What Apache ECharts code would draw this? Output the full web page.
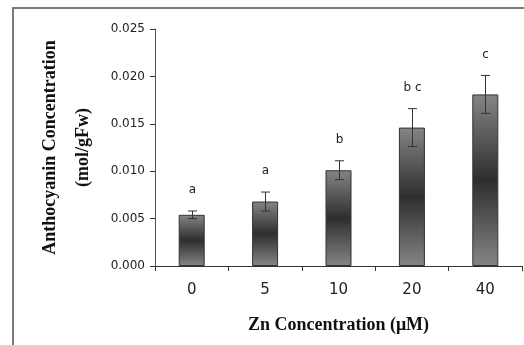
<!DOCTYPE html>
<html>
<head>
<meta charset="utf-8">
<script src="https://cdn.jsdelivr.net/npm/echarts@6/dist/echarts.min.js"></script>
<style>
  html, body { margin: 0; padding: 0; background: #fff; }
  #chart { width: 524px; height: 345px; }
</style>
</head>
<body>
<div id="chart"></div>
<script>
const categories = ['0', '5', '10', '20', '40']
const means = [0.0054, 0.0068, 0.0101, 0.0146, 0.0181]
const errors = [0.0004, 0.0010, 0.0010, 0.0020, 0.0020]
const letters = ['a', 'a', 'b', 'b c', 'c']
const yTicks = [0, 0.005, 0.010, 0.015, 0.020, 0.025]

const chart = echarts.init(document.getElementById('chart'))

const errData = means.map((m, i) => [i, m + errors[i], m - errors[i]])

const option = {
  animation: false,
  backgroundColor: '#fff',
  graphic: [{
    type: 'rect',
    shape: { x: 13, y: 8, width: 600, height: 400 },
    style: { fill: 'none', stroke: '#7a7a7a', lineWidth: 2 },
    silent: true
  }],
  grid: { left: 155, right: 2, top: 29, bottom: 79, outerBoundsMode: 'none', containLabel: false },
  xAxis: {
    type: 'category',
    data: categories,
    name: 'Zn Concentration (\u03bcM)',
    nameLocation: 'middle',
    nameGap: 50,
    nameTextStyle: { fontFamily: 'Liberation Serif', fontSize: 18, fontWeight: 'bold', color: '#111' },
    axisLine: { lineStyle: { color: '#333', width: 1 } },
    axisTick: { show: true, length: 5, lineStyle: { color: '#333' } },
    axisLabel: { fontFamily: 'DejaVu Sans', fontSize: 15, color: '#222', margin: 17 }
  },
  yAxis: {
    type: 'value',
    min: yTicks[0],
    max: yTicks[yTicks.length - 1],
    interval: 0.005,
    name: 'Anthocyanin Concentration\n(mol/gFw)',
    nameLocation: 'middle',
    nameGap: 55,
    nameTextStyle: { fontFamily: 'Liberation Serif', fontSize: 18, fontWeight: 'bold', color: '#111', lineHeight: 33 },
    splitLine: { show: false },
    axisLine: { show: true, lineStyle: { color: '#555', width: 1 } },
    axisTick: { show: true, length: 5, lineStyle: { color: '#333' } },
    axisLabel: {
      fontFamily: 'DejaVu Sans', fontSize: 12, color: '#222', margin: 10,
      formatter: v => v.toFixed(3)
    }
  },
  series: [{
    type: 'bar',
    data: means,
    barWidth: 26,
    itemStyle: {
      borderColor: '#333',
      borderWidth: 1,
      color: new echarts.graphic.LinearGradient(0, 0, 0, 1, [
        { offset: 0, color: '#858585' },
        { offset: 0.5, color: '#2e2e2e' },
        { offset: 1, color: '#858585' }
      ])
    }
  }, {
    type: 'custom',
    data: errData,
    z: 10,
    renderItem: (params, api) => {
      const hi = api.coord([api.value(0), api.value(1)])
      const lo = api.coord([api.value(0), api.value(2)])
      const x = Math.round(hi[0]) + 0.5
      const cap = 4.5
      const st = { stroke: '#333', lineWidth: 1 }
      return {
        type: 'group',
        children: [
          { type: 'line', shape: { x1: x, y1: hi[1], x2: x, y2: lo[1] }, style: st },
          { type: 'line', shape: { x1: x - cap, y1: hi[1], x2: x + cap, y2: hi[1] }, style: st },
          { type: 'line', shape: { x1: x - cap, y1: lo[1], x2: x + cap, y2: lo[1] }, style: st },
          {
            type: 'text',
            x: x,
            y: hi[1] - 21,
            style: {
              text: letters[params.dataIndex],
              fontFamily: 'DejaVu Sans',
              fontSize: 12,
              fill: '#222',
              align: 'center',
              verticalAlign: 'middle'
            }
          }
        ]
      }
    }
  }]
}

chart.setOption(option)
</script>
</body>
</html>
